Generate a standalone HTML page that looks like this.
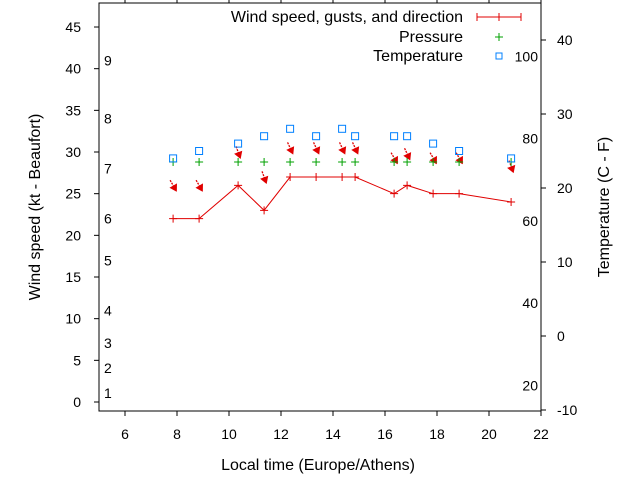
<!DOCTYPE html>
<html><head><meta charset="utf-8"><style>
body{margin:0;background:#fff}
svg{display:block;font-family:"Liberation Sans",sans-serif}
</style></head><body>
<svg id="c" width="640" height="480" viewBox="0 0 640 480"></svg>
<script>
const times=[7.85,8.85,10.35,11.35,12.35,13.35,14.35,14.85,16.35,16.85,17.85,18.85,20.85];
const wind=[22,22,26,23,27,27,27,27,25,26,25,25,24];
const gusts=[26,26,30,27,30.5,30.5,30.5,30.5,29.3,29.8,29.3,29.3,28.3];
const dirs=[330,330,340,340,335,335,335,335,330,335,330,330,340];
const pressure=[28.8,28.8,28.8,28.8,28.8,28.8,28.8,28.8,28.8,28.8,28.8,28.8,28.8];
const temps=[24,25,26,27,28,27,28,27,27,27,26,25,24];
const xTicks=[6,8,10,12,14,16,18,20,22];
const yTicks=[0,5,10,15,20,25,30,35,40,45];
const y2Ticks=[-10,0,10,20,30,40];
const beaufort=[[1,1.1],[2,4.1],[3,7.1],[4,11],[5,17],[6,22],[7,28],[8,34],[9,41]];
const fahr=[20,40,60,80,100];
const L=99,R=541,T=3,B=411;
const X=v=>L+(v-5)*26;
const Y=v=>402-v*8.333;
const Y2=v=>410-(v+10)*7.4;
const svg=document.getElementById('c');
const NS='http://www.w3.org/2000/svg';
function el(t,a,txt){const e=document.createElementNS(NS,t);for(const k in a)e.setAttribute(k,a[k]);if(txt!==undefined)e.textContent=txt;svg.appendChild(e);return e;}
let e;
e=el('rect',{x:L,y:T,width:R-L,height:B-T,fill:'none',stroke:'#000','stroke-width':1});

xTicks.forEach(v=>{
 e=el('line',{x1:X(v),x2:X(v),y1:B,y2:B+5,stroke:'#000'});
 
 e=el('line',{x1:X(v),x2:X(v),y1:T,y2:T-5,stroke:'#000'});
 
 e=el('text',{x:X(v),y:439,'font-size':14,'text-anchor':'middle'},v);
 
});
yTicks.forEach(v=>{
 e=el('line',{x1:L-5,x2:L,y1:Y(v),y2:Y(v),stroke:'#000'});
 
 e=el('text',{x:81,y:Y(v)+5,'font-size':14,'text-anchor':'end'},v);
 
});
y2Ticks.forEach(v=>{
 e=el('line',{x1:R,x2:R+5,y1:Y2(v),y2:Y2(v),stroke:'#000'});
 
 e=el('text',{x:557,y:Y2(v)+5,'font-size':14},v);
 
});
beaufort.forEach(b=>{
 e=el('text',{x:104,y:Y(b[1])+5,'font-size':14},b[0]);
 
});
fahr.forEach(f=>{
 e=el('text',{x:538,y:Y2((f-32)*5/9)+5,'font-size':14,'text-anchor':'end'},f);
 
});
e=el('text',{x:318,y:470,'font-size':16,'text-anchor':'middle'},'Local time (Europe/Athens)');

e=el('text',{x:0,y:0,'font-size':16,'text-anchor':'middle',transform:'translate(40,207) rotate(-90)'},'Wind speed (kt - Beaufort)');

e=el('text',{x:0,y:0,'font-size':16,'text-anchor':'middle',transform:'translate(609,207) rotate(-90)'},'Temperature (C - F)');

e=el('polyline',{points:times.map((t,i)=>X(t)+','+Y(wind[i])).join(' '),fill:'none',stroke:'#e00000','stroke-width':1});

times.forEach((t,i)=>{
 const x=X(t),y=Y(wind[i]);
 e=el('path',{d:`M${x-4},${y}h8M${x},${y-4}v8`,stroke:'#e00000','stroke-width':1});
 
 const gy=Y(gusts[i]);const a=(dirs[i]-180)*Math.PI/180;
 const dx=Math.sin(a)*6,dy=-Math.cos(a)*6;
 e=el('line',{x1:x-dx,y1:gy-dy,x2:x+dx,y2:gy+dy,stroke:'#e00000','stroke-width':1.3,'stroke-dasharray':'2,1'});
 
 const hx=x+dx,hy=gy+dy,ux=dx/6,uy=dy/6;
 e=el('polygon',{points:`${hx},${hy} ${hx-ux*5-uy*3},${hy-uy*5+ux*3} ${hx-ux*5+uy*3},${hy-uy*5-ux*3}`,fill:'#e00000',stroke:'#e00000','stroke-width':1.5});
 
 const py=Y(pressure[i]);
 e=el('path',{d:`M${x-4},${py}h8M${x},${py-4}v8`,stroke:'#00a000','stroke-width':1});
 
 const ty=Y2(temps[i]);
 e=el('rect',{x:x-3.5,y:ty-3.5,width:7,height:7,fill:'none',stroke:'#0080ff','stroke-width':1});
 
});
e=el('text',{x:463,y:22,'font-size':16,'text-anchor':'end'},'Wind speed, gusts, and direction');

e=el('path',{d:'M477,17h44M477,13v8M499,13v8M521,13v8',stroke:'#e00000'});

e=el('text',{x:463,y:42,'font-size':16,'text-anchor':'end'},'Pressure');

e=el('path',{d:'M495,37h8M499,33v8',stroke:'#00a000'});

e=el('text',{x:463,y:61,'font-size':16,'text-anchor':'end'},'Temperature');

e=el('rect',{x:496,y:53,width:6,height:6,fill:'none',stroke:'#0080ff'});

</script>
</body></html>
